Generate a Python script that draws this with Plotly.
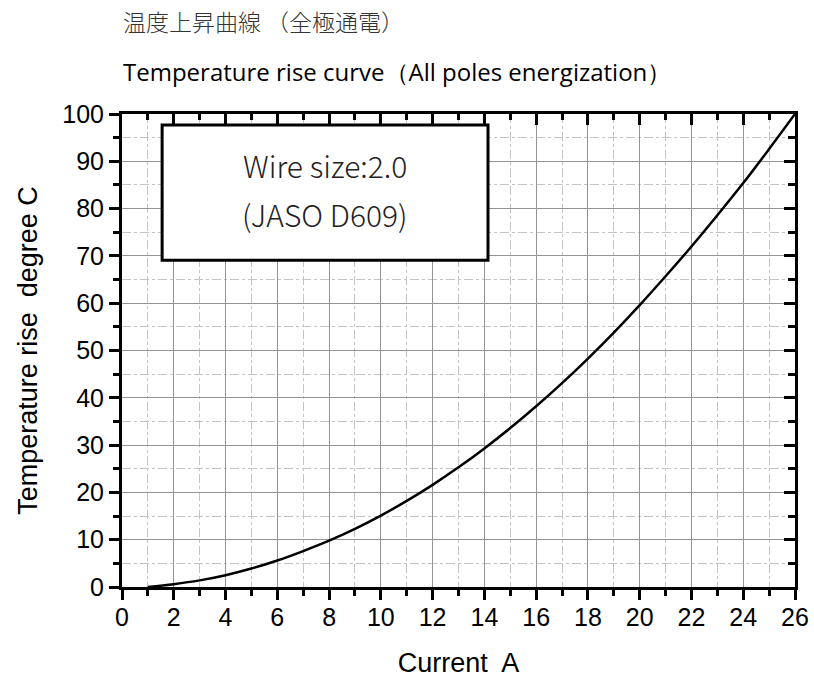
import plotly.graph_objects as go

current = [1, 2, 3, 4, 5, 6, 7, 8, 9, 10, 11, 12, 13, 14, 15, 16, 17, 18, 19, 20, 21, 22, 23, 24, 25, 26]
temp_rise = [0, 0.6, 1.4, 2.5, 3.9, 5.6, 7.6, 9.8, 12.3, 15.1, 18.2, 21.6, 25.3, 29.3, 33.6,
             38.2, 43.1, 48.3, 53.8, 59.6, 65.7, 72.0, 78.6, 85.4, 92.6, 100]
x_ticks = list(range(0, 27, 2))
y_ticks = list(range(0, 101, 10))

title_jp = "温度上昇曲線 （全極通電）"
title_en = "Temperature rise curve（All poles energization）"
box_lines = ["Wire size:2.0", "(JASO D609)"]

fig = go.Figure()
fig.add_trace(go.Scatter(x=current, y=temp_rise, mode="lines",
                         line=dict(color="black", width=2.5, shape="spline", smoothing=1.0),
                         showlegend=False))
fig.add_trace(go.Scatter(x=current, y=temp_rise, mode="lines", line=dict(color="rgba(0,0,0,0)", width=0),
                         xaxis="x2", yaxis="y2", showlegend=False, hoverinfo="skip"))

tickfont = dict(family="Liberation Sans, Arial", size=25, color="black")
titlefont = dict(family="Liberation Sans, Arial", size=27, color="black")
fig.update_layout(
    width=814, height=683,
    margin=dict(l=122, r=19, t=114, b=96),
    paper_bgcolor="white", plot_bgcolor="white",
    xaxis=dict(range=[0, 26], tickvals=x_ticks, showline=True, linewidth=3, linecolor="black", automargin=False,
               ticks="outside", ticklen=10, tickwidth=3, tickcolor="black", tickfont=tickfont,
               ticklabelstandoff=-4,
               showgrid=True, gridcolor="#939393", gridwidth=1, zeroline=False,
               minor=dict(dtick=1, ticks="outside", ticklen=6, tickwidth=3, tickcolor="black",
                          showgrid=True, gridcolor="#c4c4c4", griddash="dashdot", gridwidth=1),
               title=dict(text="Current  A", font=titlefont, standoff=24)),
    yaxis=dict(range=[0, 100], tickvals=y_ticks, showline=True, linewidth=3, linecolor="black", automargin=False,
               ticks="outside", ticklen=10, tickwidth=3, tickcolor="black", tickfont=tickfont,
               showgrid=True, gridcolor="#939393", gridwidth=1, zeroline=False,
               minor=dict(dtick=5, ticks="outside", ticklen=6, tickwidth=3, tickcolor="black",
                          showgrid=True, gridcolor="#c4c4c4", griddash="dashdot", gridwidth=1),
               title=dict(text="Temperature rise  degree C", font=titlefont, standoff=17)),
    xaxis2=dict(range=[0, 26], overlaying="x", side="top", tickvals=x_ticks, showticklabels=False, automargin=False,
                showline=True, linewidth=3, linecolor="black", ticks="inside", ticklen=11, tickwidth=3,
                tickcolor="black", showgrid=False, zeroline=False,
                minor=dict(dtick=1, ticks="inside", ticklen=6, tickwidth=3, tickcolor="black", showgrid=False)),
    yaxis2=dict(range=[0, 100], overlaying="y", side="right", tickvals=y_ticks, showticklabels=False, automargin=False,
                showline=True, linewidth=3, linecolor="black", ticks="inside", ticklen=11, tickwidth=3,
                tickcolor="black", showgrid=False, zeroline=False,
                minor=dict(dtick=5, ticks="inside", ticklen=7, tickwidth=3, tickcolor="black", showgrid=False)),
)

fig.add_shape(type="rect", xref="x", yref="y", x0=1.55, x1=14.14, y0=69.1, y1=97.7,
              line=dict(color="black", width=3), fillcolor="white", layer="above")

boxfont = dict(family="Noto Sans CJK JP, Noto Sans", size=30, color="#222", weight=300)
fig.add_annotation(x=7.84, y=89.2, xref="x", yref="y", text=box_lines[0], showarrow=False, font=boxfont)
fig.add_annotation(x=7.84, y=78.8, xref="x", yref="y", text=box_lines[1], showarrow=False, font=boxfont)

fig.add_annotation(x=(121 - 122) / 673, y=1 + (114 - 21) / 473, xref="paper", yref="paper", xanchor="left",
                   yanchor="middle", text=title_jp, showarrow=False,
                   font=dict(family="Noto Sans CJK JP", size=23, color="#333", weight=300))
fig.add_annotation(x=(121 - 122) / 673, y=1 + (114 - 71) / 473, xref="paper", yref="paper", xanchor="left",
                   yanchor="middle", text=title_en, showarrow=False,
                   font=dict(family="Open Sans", size=24, color="black"))

fig.write_html("out.html", config={"displayModeBar": False},
               post_script="document.body.style.margin='0';document.body.style.overflow='hidden';")
